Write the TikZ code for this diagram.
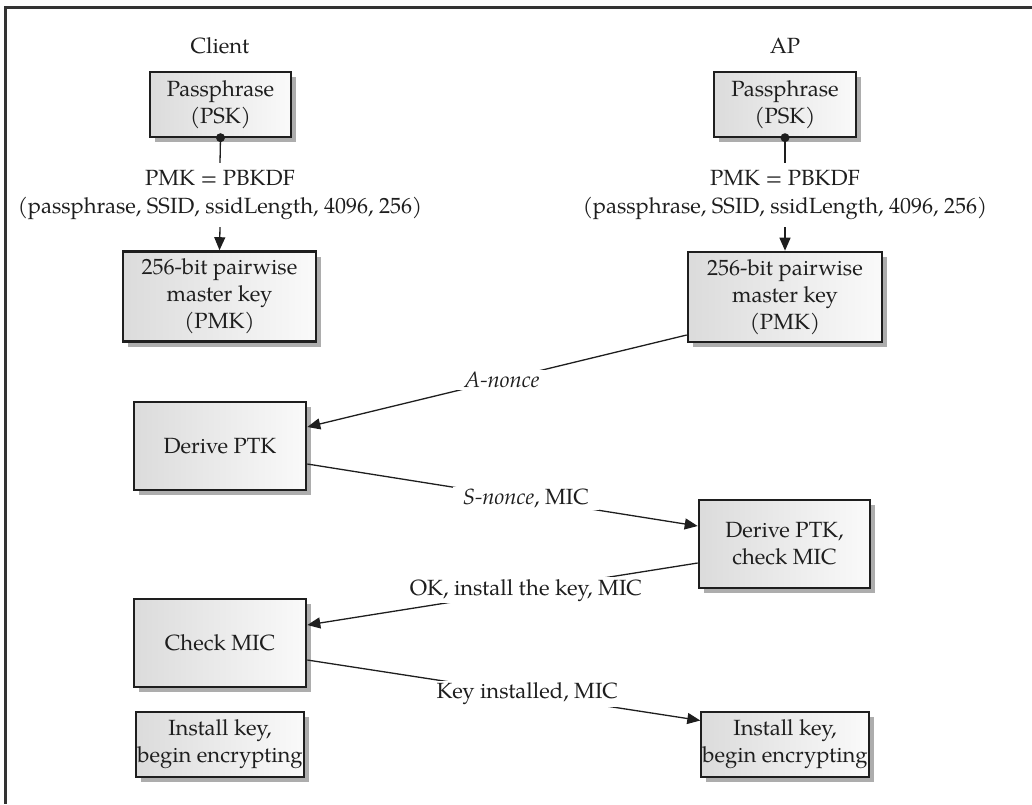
\documentclass[tikz,border=0pt]{standalone}
\usepackage{fontspec}
\setmainfont{TeX Gyre Pagella}
\usetikzlibrary{shadows,arrows.meta}
\definecolor{ink}{HTML}{1E1E1E}
\tikzset{
  box/.style={draw=ink, align=center, inner sep=0pt, text=ink,
    left color=black!14, right color=black!2,
    drop shadow={shadow xshift=5pt, shadow yshift=-5pt, fill=black!32, opacity=1},
    font=\fontsize{22}{27}\selectfont},
  thinbox/.style={box, line width=1.4pt},
  thickbox/.style={box, line width=2.6pt},
  txt/.style={text=ink, align=center, font=\fontsize{22}{28.5}\selectfont},
  conn/.style={draw=ink, line width=1.3pt},
  arr/.style={conn, -{Triangle[length=13pt,width=11pt]}},
  lbl/.style={fill=white, text=ink, inner xsep=10pt, inner ysep=2pt, font=\fontsize{22}{27}\selectfont},
}
\begin{document}
\begin{tikzpicture}[x=1pt,y=-1pt]
\useasboundingbox (0,0) rectangle (1032,804);
\draw[line width=3pt, color=black!80] (1032,7.5) -- (5.5,7.5) -- (5.5,804);

% column titles
\node[txt] (client) at (220,46) {Client};
\node[txt] (ap) at (785,46) {AP};

% passphrase boxes
\node[thinbox, minimum width=141pt, minimum height=65pt] (passC) at (220.5,104.5) {Passphrase\\(PSK)};
\node[thinbox, minimum width=142pt, minimum height=65pt] (passA) at (785,104.5) {Passphrase\\(PSK)};

% PBKDF text
\node[txt, inner sep=0pt, minimum height=64pt] (pbC) at (220,195) {PMK = PBKDF\\(passphrase, SSID, ssidLength, 4096, 256)};
\node[txt, inner sep=0pt, minimum height=64pt] (pbA) at (785,195) {PMK = PBKDF\\(passphrase, SSID, ssidLength, 4096, 256)};

% PMK boxes
\node[thickbox, minimum width=193pt, minimum height=90pt] (pmkC) at (219.5,296.5) {256-bit pairwise\\master key\\(PMK)};
\node[thickbox, minimum width=194pt, minimum height=90pt] (pmkA) at (785,297) {256-bit pairwise\\master key\\(PMK)};

% handshake boxes
\node[thickbox, minimum width=172pt, minimum height=88pt] (derC) at (220,446) {Derive PTK};
\node[thickbox, minimum width=171pt, minimum height=88pt] (derA) at (784.5,544) {Derive PTK,\\check MIC};
\node[thickbox, minimum width=172pt, minimum height=88pt] (chk) at (220,643) {Check MIC};
\node[thinbox, minimum width=168pt, minimum height=65pt] (instC) at (220,744.5) {Install key,\\begin encrypting};
\node[thinbox, minimum width=168pt, minimum height=65pt] (instA) at (785,744.5) {Install key,\\begin encrypting};

% derivation connectors
\foreach \p/\b/\k in {passC/pbC/pmkC, passA/pbA/pmkA}{
  \draw[conn] (\p.south) -- (\b.north);
  \fill[ink] (\p.south) circle (4.5pt);
  \draw[arr] (\b.south) -- (\k.north);
}

% handshake messages
\draw[arr] ([yshift=-38pt]pmkA.west) -- node[lbl, pos=0.487]{\textit{A-nonce}} ([yshift=19pt]derC.east);
\draw[arr] ([yshift=-18pt]derC.east) -- node[lbl, pos=0.56]{\textit{S-nonce}, MIC} ([yshift=18pt]derA.west);
\draw[arr] ([yshift=-19pt]derA.west) -- node[lbl, pos=0.44]{OK, install the key, MIC} ([yshift=18pt]chk.east);
\draw[arr] ([yshift=-17pt]chk.east) -- node[lbl, pos=0.56]{Key installed, MIC} ([yshift=24pt]instA.west);
\end{tikzpicture}
\end{document}
